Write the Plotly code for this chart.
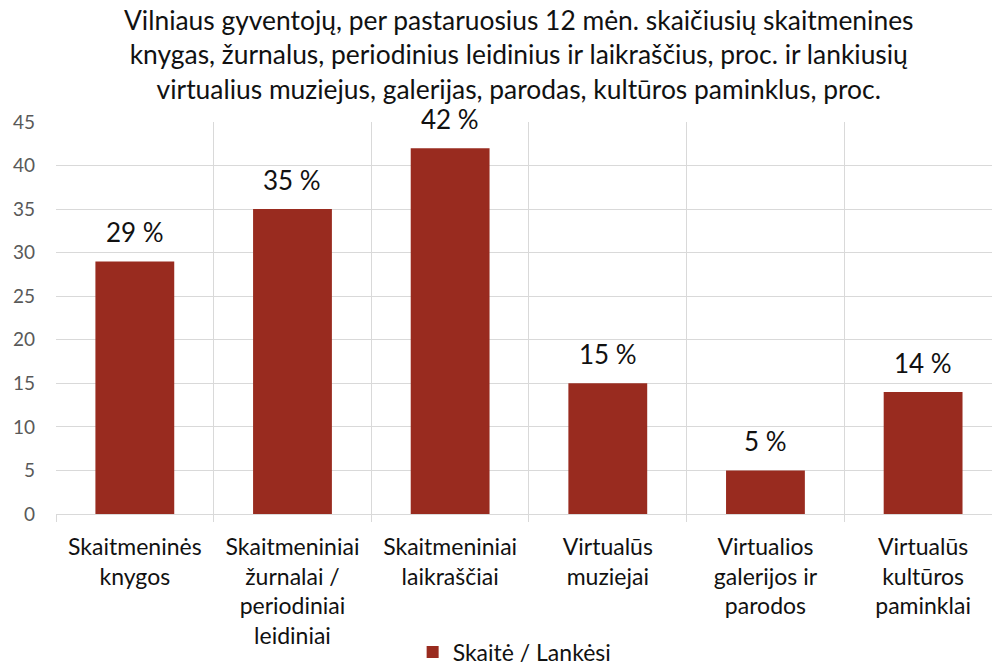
import plotly.graph_objects as go

categories = [
    "Skaitmeninės<br>knygos",
    "Skaitmeniniai<br>žurnalai /<br>periodiniai<br>leidiniai",
    "Skaitmeniniai<br>laikraščiai",
    "Virtualūs<br>muziejai",
    "Virtualios<br>galerijos ir<br>parodos",
    "Virtualūs<br>kultūros<br>paminklai",
]
values = [29, 35, 42, 15, 5, 14]
series_name = "Skaitė / Lankėsi"
title_text = ("Vilniaus gyventojų, per pastaruosius 12 mėn. skaičiusių skaitmenines<br>"
              "knygas, žurnalus, periodinius leidinius ir laikraščius, proc. ir lankiusių<br>"
              "virtualius muziejus, galerijas, parodas, kultūros paminklus, proc.")
y_ticks = [0, 5, 10, 15, 20, 25, 30, 35, 40, 45]

FONT = "Lato, 'Open Sans', sans-serif"
BAR = "#992B1F"
GRID = "#D9D9D9"
TXT = "#111111"

fig = go.Figure()
fig.add_trace(go.Bar(
    x=categories, y=values, name=series_name,
    marker=dict(color=BAR, line=dict(width=0)),
    width=0.5, showlegend=True,
))

for c, v in zip(categories, values):
    fig.add_annotation(x=c, y=v, text=f"{v} %", showarrow=False,
                       yanchor="bottom", yshift=11,
                       font=dict(family=FONT, size=26, color=TXT))

# title as annotation (multi-line)
fig.add_annotation(text=title_text, xref="paper", yref="paper", x=0.495, y=1.173,
                   xanchor="center", yanchor="middle", showarrow=False,
                   font=dict(family=FONT, size=26.4, color=TXT))

fig.update_layout(
    width=992, height=664,
    paper_bgcolor="white", plot_bgcolor="white",
    margin=dict(l=56, r=0, t=122, b=150, autoexpand=False),
    font=dict(family=FONT),
    legend=dict(orientation="h", x=0.49, xanchor="center", y=-0.352, yanchor="middle",
                font=dict(family=FONT, size=23, color=TXT)),
    xaxis=dict(
        type="category", range=[-0.5, 5.437], automargin=False,
        tickson="boundaries", showgrid=True, gridcolor=GRID, gridwidth=1,
        ticks="outside", ticklen=7, tickcolor=GRID, ticklabelstandoff=12,
        showline=True, linecolor=GRID, linewidth=1,
        tickfont=dict(family=FONT, size=23, color=TXT),
    ),
    yaxis=dict(
        range=[0, 45], tickvals=y_ticks, showgrid=True, gridcolor=GRID, gridwidth=1,
        automargin=False,
        zeroline=False, showline=False, ticks="", ticklabelstandoff=20,
        tickfont=dict(family=FONT, size=19, color="#595959"),
    ),
)

fig.write_html("out.html", config={"displayModeBar": False},
               post_script="document.body.style.margin='0';document.body.style.overflow='hidden';")
